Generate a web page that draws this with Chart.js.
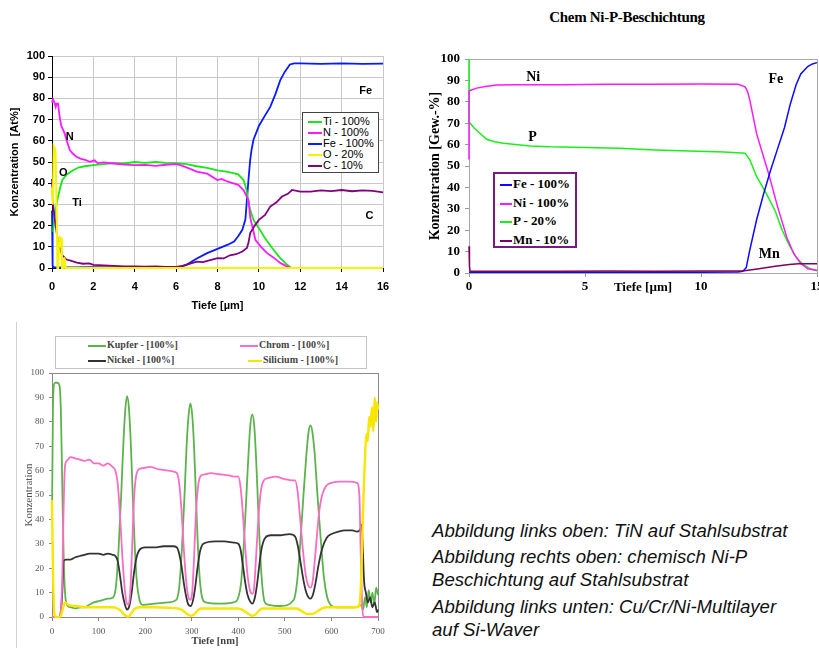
<!DOCTYPE html>
<html>
<head>
<meta charset="utf-8">
<script src="https://cdn.jsdelivr.net/npm/chart.js@4.4.1/dist/chart.umd.min.js"></script>
<style>
  html, body { margin: 0; padding: 0; background: #fff; }
  body { width: 819px; height: 648px; overflow: hidden; position: relative; }
  canvas { position: absolute; }
  .box { position: absolute; background: #fff; }
  .row { position: absolute; white-space: nowrap; }
  .swatch { display: inline-block; vertical-align: middle; }
  #title2 { position: absolute; left: 527px; width: 200px; top: 9px; text-align: center;
            font: bold 15px "Liberation Serif", serif; letter-spacing: -0.3px; }
  #notes { position: absolute; left: 432px; top: 0; font: italic 18.6px "Liberation Sans", Arial, sans-serif;
           line-height: 23px; color: #111; }
  #notes p { position: absolute; margin: 0; white-space: nowrap; }
</style>
</head>
<body>
<canvas id="tin" width="400" height="280" style="left:0;top:40px"></canvas>
<div id="legTin" class="box" style="left:302px;top:112px;width:75px;height:59px;border:1px solid #444"></div>

<div id="title2">Chem Ni-P-Beschichtung</div>
<canvas id="nip" width="430" height="310" style="left:415px;top:0"></canvas>
<div id="legNip" class="box" style="left:493px;top:172px;width:80px;height:72px;border:2px solid #7a1a7a"></div>

<div style="position:absolute;left:16px;top:322px;width:1px;height:326px;background:#d0d0d0"></div>
<div id="legCu" class="box" style="left:55px;top:336px;width:310px;height:31px;border:1px solid #c4c4c4"></div>
<canvas id="cu" width="400" height="286" style="left:0;top:362px"></canvas>

<div id="notes">
  <p style="top:519px">Abbildung links oben: TiN auf Stahlsubstrat</p>
  <p style="top:545px">Abbildung rechts oben: chemisch Ni-P<br>Beschichtung auf Stahlsubstrat</p>
  <p style="top:595px">Abbildung links unten: Cu/Cr/Ni-Multilayer<br>auf Si-Waver</p>
</div>

<script>
// ---------- TiN auf Stahlsubstrat (oben links), Tiefe in µm ----------
const tinNames = ['Ti - 100%', 'N - 100%', 'Fe - 100%', 'O - 20%', 'C - 10%'];
const tiX = [0.05, 0.1, 0.2, 0.3, 0.4, 0.5, 0.7, 1.0, 1.3, 1.6, 2.0, 2.5, 3.0, 3.5, 4.0, 4.5, 5.0, 5.5, 6.0, 6.5, 7.0, 7.5, 8.0, 8.5, 9.0, 9.26, 9.4, 9.5, 9.58, 9.75, 10.0, 10.3, 10.64, 11.0, 11.28, 11.5, 11.6, 16];
const tiY = [17, 22, 29, 34, 38, 41.5, 44, 46, 47.5, 48, 48.5, 49, 49.5, 49.3, 50, 49.6, 50, 49.6, 49.5, 49, 48, 47.2, 46, 45.3, 44.2, 41.5, 37, 31, 27.4, 22.5, 18.8, 14, 9.4, 5, 2.3, 0.5, 0, 0];
const nX = [0, 0.05, 0.12, 0.18, 0.22, 0.29, 0.37, 0.45, 0.61, 0.75, 0.86, 1.0, 1.18, 1.4, 1.6, 1.83, 2.06, 2.2, 2.5, 3.0, 3.5, 4.0, 4.5, 5.0, 5.5, 6.0, 6.2, 6.5, 7.0, 7.5, 8.0, 8.2, 8.5, 9.0, 9.26, 9.5, 9.58, 9.83, 10.1, 10.4, 10.7, 11.05, 11.3, 11.44, 11.55, 16];
const nY = [78, 79.5, 78, 76, 77.5, 77.6, 71.3, 67, 63.5, 59, 55.6, 54, 52.5, 51.5, 51, 50.1, 50.8, 49.5, 49.8, 49.3, 48.8, 48.5, 48.6, 48.2, 48.7, 49, 48.5, 47.5, 45.5, 44.5, 41.5, 42, 40.7, 39.2, 36.8, 32, 24, 13.3, 10, 7, 5, 2.3, 1, 0.5, 0, 0];
const feX = [0, 0.03, 0.1, 1, 2, 3, 4, 5, 6, 6.2, 6.5, 7.0, 7.5, 8.0, 8.5, 8.8, 9.0, 9.2, 9.35, 9.42, 9.5, 9.58, 9.65, 9.74, 10.0, 10.3, 10.55, 10.8, 11.03, 11.25, 11.5, 11.7, 12, 13, 14, 15, 16];
const feY = [27, 1, 0.3, 0.3, 0.4, 0.3, 0.3, 0.3, 0.3, 0.5, 1.5, 4.5, 7, 9, 11, 12.5, 15, 18, 23, 32, 42, 51, 56, 60.5, 67, 72, 76, 82, 88.5, 92.5, 96, 96.5, 96.5, 96.3, 96.5, 96.3, 96.4];
const oX = [0, 0.04, 0.08, 0.12, 0.17, 0.22, 0.26, 0.3, 0.35, 0.38, 0.44, 0.48, 0.55, 0.6, 0.65, 16];
const oY = [38, 30, 57.5, 57, 55, 30, 0, 0, 14, 14.5, 14, 0, 0, 5, 0, 0];
const cX = [0, 0.05, 0.15, 0.25, 0.35, 0.5, 0.7, 0.9, 1.2, 1.5, 1.8, 2.0, 2.5, 3.0, 3.5, 4.0, 4.5, 5.0, 5.5, 6.0, 6.3, 6.6, 7.0, 7.3, 7.6, 8.0, 8.3, 8.6, 8.9, 9.2, 9.42, 9.5, 9.58, 9.8, 10.0, 10.3, 10.55, 10.85, 11.12, 11.4, 11.6, 12.0, 12.5, 13.0, 13.5, 14.0, 14.5, 15.0, 15.5, 16.0];
const cY = [42, 30, 22, 15, 10, 6, 4, 3.5, 2.5, 2, 2.2, 1.5, 1.2, 1, 0.8, 0.8, 0.6, 0.7, 0.5, 0.5, 1, 1.8, 3, 2.8, 3.6, 4.7, 4.5, 6, 6.5, 7.8, 9.4, 12, 16.5, 20, 22.7, 25, 29, 31, 33.7, 35, 36.8, 36, 36, 36.6, 36.3, 36.8, 36.2, 36.6, 36.4, 35.7];

// ---------- Chem Ni-P-Beschichtung (oben rechts), Tiefe in µm ----------
const nipNames = ['Fe - 100%', 'Ni - 100%', 'P - 20%', 'Mn - 10%'];
const npFeX = [0, 2, 4, 6, 8, 10, 11.6, 11.8, 11.95, 12.1, 12.4, 12.7, 13.0, 13.3, 13.6, 13.85, 14.1, 14.3, 14.6, 14.8, 15];
const npFeY = [0.3, 0.3, 0.3, 0.3, 0.3, 0.3, 0.5, 0.8, 2.5, 10.6, 25, 37, 48, 58, 68, 79, 88, 93, 96.5, 97.7, 98.3];
const niX = [0, 0, 0.05, 0.33, 0.7, 1.2, 2, 4, 6, 8, 10, 11.6, 11.9, 12.0, 12.1, 12.25, 12.4, 12.65, 12.9, 13.3, 13.7, 14.0, 14.3, 14.6, 15];
const niY = [53, 85, 85.3, 86.4, 87.2, 87.8, 88, 88, 88.2, 88.2, 88.3, 88.2, 87, 85, 81, 73, 65, 56, 47, 31, 16.6, 9, 4.5, 2, 1.3];
const pX = [0, 0, 0.05, 0.2, 0.47, 0.76, 1.1, 1.48, 2.0, 2.63, 3.5, 5, 6.5, 8, 9.5, 11, 11.9, 12.1, 12.4, 12.8, 13.2, 13.5, 13.8, 14.1, 14.4, 14.7, 15];
const pY = [100, 70.3, 70, 68, 65.3, 62.5, 61.3, 60.6, 60, 59.4, 59, 58.7, 58.3, 57.5, 57, 56.5, 56, 53, 45, 37.4, 29, 20, 13, 7.4, 4, 2, 1];
const mnX = [0, 0.02, 0.05, 2, 4, 6, 8, 10, 11.8, 12.5, 13.2, 13.8, 14.2, 15];
const mnY = [12.5, 3, 0.8, 0.8, 0.8, 0.9, 0.8, 0.9, 0.9, 2, 3.2, 4, 4.3, 4.3];

// ---------- Cu/Cr/Ni-Multilayer auf Si (unten links), Tiefe in nm ----------
const cuNames = ['Kupfer - [100%]', 'Chrom - [100%]', 'Nickel - [100%]', 'Silicium - [100%]'];
const kupferX = [0, 2, 4, 7, 12, 16, 19, 22, 25, 28, 32, 40, 50, 60, 70, 80, 90, 100, 110, 120, 131, 137, 143, 149, 153, 157, 161, 165, 169, 173, 177, 182, 188, 195, 220, 250, 267, 273, 279, 285, 289, 293, 297, 301, 305, 309, 313, 318, 324, 330, 360, 390, 400, 406, 412, 418, 422, 426, 430, 434, 438, 442, 446, 451, 457, 465, 490, 519, 526, 533, 540, 546, 551, 555, 559, 564, 570, 577, 584, 591, 598, 610, 630, 650, 660, 664, 668, 672, 676, 680, 684, 688, 692, 696, 700];
const kupferY = [40, 85, 95, 96, 96, 95, 85, 55, 25, 10, 5, 4, 3.5, 4, 4, 5, 6, 6.5, 7, 7.5, 8, 12, 28, 52, 70, 84, 90.5, 86, 72, 52, 32, 15, 7, 5, 5.5, 6, 7, 12, 28, 52, 70, 82, 87.5, 83, 70, 50, 30, 14, 7, 6, 5.5, 6, 8, 14, 30, 52, 67, 79, 83, 79, 66, 48, 30, 14, 6, 5, 4.5, 7, 14, 30, 50, 66, 76, 78.5, 76, 67, 50, 32, 16, 8, 5, 4, 4, 4, 4.5, 5, 3, 8, 4, 11, 6, 10, 5, 12, 9];
const chromX = [0, 15, 19, 22, 25, 28, 32, 40, 50, 60, 70, 80, 90, 100, 110, 120, 130, 136, 141, 146, 151, 156, 160, 164, 168, 172, 176, 180, 186, 195, 210, 230, 250, 262, 268, 273, 278, 283, 288, 293, 297, 301, 305, 309, 314, 320, 330, 340, 360, 380, 395, 400, 405, 410, 415, 420, 425, 430, 434, 438, 443, 448, 455, 465, 480, 500, 516, 522, 527, 533, 539, 545, 550, 555, 560, 566, 573, 580, 590, 600, 620, 640, 655, 660, 663, 666, 669, 700];
const chromY = [0, 0, 3, 15, 45, 62, 64, 65.5, 65, 64.5, 64, 64.5, 63, 63, 62, 63, 61.5, 60, 55, 42, 25, 12, 6, 5, 10, 28, 48, 57, 60.5, 61, 61.5, 60.5, 60, 59.5, 59, 55, 44, 28, 15, 8, 7, 10, 24, 42, 54, 58, 58.5, 59, 58.5, 58, 57.5, 57.5, 53, 42, 28, 17, 11, 9.5, 12, 24, 40, 51, 56, 57, 57.5, 56.5, 56, 56, 52, 40, 27, 17, 13, 12, 15, 27, 42, 50, 54, 55, 55.5, 55.5, 55, 50, 25, 5, 0, 0];
const nickelX = [0, 15, 19, 22, 25, 30, 40, 50, 60, 70, 80, 90, 100, 110, 120, 130, 136, 141, 146, 151, 156, 161, 166, 171, 176, 181, 188, 200, 220, 240, 260, 268, 273, 278, 283, 288, 293, 298, 303, 308, 313, 318, 325, 350, 370, 390, 400, 405, 410, 415, 420, 425, 430, 435, 440, 445, 450, 458, 470, 490, 510, 522, 528, 534, 540, 546, 551, 555, 560, 566, 572, 580, 590, 600, 615, 630, 645, 655, 662, 665, 667, 670, 674, 678, 683, 688, 693, 698, 700];
const nickelY = [0, 0, 2, 10, 23, 23.5, 23.5, 24.5, 25, 25.5, 26, 26, 26, 25.5, 26, 25.5, 25, 23, 17, 10, 5.5, 3, 4.5, 10, 18, 24, 27.5, 28.5, 28.5, 29, 29, 28.5, 26, 21, 14, 8.5, 5, 4.5, 7, 13, 21, 27, 30, 31, 31, 30.5, 30, 27.5, 21, 14, 9, 6.5, 5.5, 7.5, 13, 21, 28, 32.5, 33.5, 33.5, 34, 33, 29, 22, 15, 10, 8, 7.5, 9, 14, 21, 28, 32.5, 34, 35, 35.5, 35.5, 35, 36, 38, 30, 15, 10, 6, 8, 4, 6, 2, 3];
const siliciumX = [0, 2, 4, 6, 10, 16, 20, 24, 28, 35, 50, 80, 110, 130, 140, 148, 155, 160, 165, 170, 176, 182, 190, 220, 250, 270, 278, 285, 292, 298, 305, 312, 320, 340, 380, 400, 408, 416, 424, 430, 437, 444, 452, 480, 510, 525, 533, 541, 549, 556, 563, 571, 580, 590, 600, 630, 655, 660, 663, 666, 669, 672, 675, 678, 681, 684, 687, 690, 693, 696, 698, 700];
const siliciumY = [48, 20, 5, 0.5, 0, 0, 1, 4, 6, 5, 4.5, 4, 4, 4, 3.5, 2.5, 1, 0.3, 0.2, 1.5, 3, 3.8, 4, 4, 3.8, 3.5, 3, 2, 1, 0.5, 1, 2.5, 3.5, 3.5, 3.5, 3.5, 3, 2, 1, 0.5, 1, 2.5, 3.5, 3.5, 3.5, 3.5, 2.8, 1.8, 1.2, 1.2, 1.5, 2.5, 3.5, 4, 4, 4, 4, 5, 12, 30, 50, 65, 75, 72, 82, 78, 86, 76, 90, 80, 88, 85];

// ---------- helpers ----------
const pts = (xs, ys) => xs.map((x, i) => ({ x, y: ys[i] }));

const line = (label, xs, ys, color, width, order) => ({
    label, data: pts(xs, ys), borderColor: color, backgroundColor: color,
    borderWidth: width, pointRadius: 0, showLine: true, order, clip: 3, tension: 0
});

// grauer Rahmen um die Plotfläche
const frame = {
    id: 'frame',
    beforeDatasetsDraw(chart, args, opts) {
        if (!opts.color) return;
        const { ctx, chartArea: a } = chart;
        ctx.save();
        ctx.strokeStyle = opts.color;
        ctx.lineWidth = 1;
        ctx.strokeRect(Math.round(a.left) + 0.5, Math.round(a.top) + 0.5, Math.round(a.width), Math.round(a.height));
        ctx.restore();
    }
};

// Elementbeschriftungen im Diagramm (Datenkoordinaten)
const tags = {
    id: 'tags',
    afterDatasetsDraw(chart, args, opts) {
        if (!opts.items) return;
        const { ctx, scales: { x, y } } = chart;
        ctx.save();
        ctx.font = opts.font;
        ctx.fillStyle = opts.color || '#000';
        ctx.textAlign = 'center';
        ctx.textBaseline = 'middle';
        opts.items.forEach(t => ctx.fillText(t.text, x.getPixelForValue(t.x), y.getPixelForValue(t.y)));
        ctx.restore();
    }
};

const base = {
    responsive: false,
    animation: false,
    events: [],
    plugins: { legend: { display: false }, tooltip: { enabled: false } }
};

function legendRows(el, names, colors, opt) {
    el.innerHTML = names.map((n, i) =>
        `<div class="row" style="left:${opt.left[i]}px;top:${opt.top[i]}px;font:${opt.font};line-height:${opt.lh}px;color:${opt.color}">` +
        `<span class="swatch" style="width:${opt.sw[i]}px;height:${opt.th}px;background:${colors[i]};margin-right:${opt.gap}px"></span>${n}</div>`
    ).join('');
}

// ---------- Chart 1: TiN ----------
const tinColors = ['#19e619', '#ff19ff', '#0a1aff', '#f5f500', '#800080'];
const arial = 'Liberation Sans, Arial, sans-serif';
new Chart(document.getElementById('tin'), {
    type: 'scatter',
    data: {
        datasets: [
            line(tinNames[0], tiX, tiY, tinColors[0], 1.8, 3),
            line(tinNames[1], nX, nY, tinColors[1], 1.8, 2),
            line(tinNames[2], feX, feY, tinColors[2], 1.8, 4),
            line(tinNames[3], oX, oY, tinColors[3], 2, 0),
            line(tinNames[4], cX, cY, tinColors[4], 1.8, 1)
        ]
    },
    options: {
        ...base,
        layout: { padding: { left: 0, right: 17, top: 16, bottom: 7 } },
        plugins: {
            ...base.plugins,
            tags: {
                font: 'bold 11px Liberation Sans, Arial, sans-serif',
                items: [
                    { x: 15.16, y: 83.4, text: 'Fe' }, { x: 0.86, y: 61.9, text: 'N' },
                    { x: 0.54, y: 45, text: 'O' }, { x: 1.21, y: 30.6, text: 'Ti' },
                    { x: 15.35, y: 24.6, text: 'C' }
                ]
            }
        },
        scales: {
            x: {
                type: 'linear', min: 0, max: 16,
                afterFit: s => { s.height = 45; },
                ticks: { stepSize: 2, color: '#000', padding: 8, maxRotation: 0, font: { family: arial, size: 11, weight: 'bold' } },
                grid: { color: '#c8c8c8', tickColor: '#000', tickLength: 4 },
                border: { color: '#000' },
                title: { display: true, text: 'Tiefe [µm]', color: '#000', padding: 0, font: { family: arial, size: 11, weight: 'bold' } }
            },
            y: {
                min: 0, max: 100,
                afterFit: s => { s.width = 52; },
                ticks: { stepSize: 10, color: '#000', padding: 3, font: { family: arial, size: 11, weight: 'bold' } },
                grid: { color: '#c8c8c8', tickColor: '#000', tickLength: 4 },
                border: { color: '#000' },
                title: { display: true, text: 'Konzentration  [At%]', color: '#000', padding: { top: 8, bottom: 0 }, font: { family: arial, size: 11, weight: 'bold' } }
            }
        }
    },
    plugins: [tags]
});
legendRows(document.getElementById('legTin'), tinNames, tinColors, {
    left: [5, 5, 5, 5, 5], top: [3, 14, 25, 36, 47], font: '11px Liberation Sans, Arial, sans-serif',
    lh: 11, color: '#000', sw: [14, 14, 14, 14, 14], th: 2, gap: 1
});

// ---------- Chart 2: Ni-P ----------
const nipColors = ['#0a0aff', '#ff19ff', '#19f019', '#800060'];
const serif = 'Liberation Serif, Times New Roman, serif';
new Chart(document.getElementById('nip'), {
    type: 'scatter',
    data: {
        datasets: [
            line(nipNames[0], npFeX, npFeY, nipColors[0], 1.5, 1),
            line(nipNames[1], niX, niY, nipColors[1], 1.5, 2),
            line(nipNames[2], pX, pY, nipColors[2], 1.5, 3),
            line(nipNames[3], mnX, mnY, nipColors[3], 1.5, 0)
        ]
    },
    options: {
        ...base,
        layout: { padding: { left: 0, right: 28, top: 59, bottom: 15 } },
        plugins: {
            ...base.plugins,
            frame: { color: '#a8a8a8' },
            tags: {
                font: 'bold 14px Liberation Serif, Times New Roman, serif',
                items: [
                    { x: 2.77, y: 91.6, text: 'Ni' }, { x: 2.74, y: 63.3, text: 'P' },
                    { x: 13.23, y: 90.3, text: 'Fe' }, { x: 12.94, y: 8.8, text: 'Mn' }
                ]
            }
        },
        scales: {
            x: {
                type: 'linear', min: 0, max: 15,
                afterFit: s => { s.height = 22; },
                ticks: { stepSize: 5, color: '#000', padding: 2, maxRotation: 0, font: { family: serif, size: 13, weight: 'bold' } },
                grid: { drawOnChartArea: false, tickColor: '#999', tickLength: 4 },
                border: { color: '#888' },
                title: { display: true, text: 'Tiefe [µm]', color: '#000', padding: 0, font: { family: serif, size: 13, weight: 'bold' } }
            },
            y: {
                min: 0, max: 100,
                afterFit: s => { s.width = 54; },
                ticks: { stepSize: 10, color: '#000', padding: 5, font: { family: serif, size: 13, weight: 'bold' } },
                grid: { drawOnChartArea: false, tickColor: '#999', tickLength: 4 },
                border: { color: '#888' },
                title: { display: true, text: 'Konzentration [Gew.-%]', color: '#000', padding: { top: 12, bottom: 0 }, font: { family: serif, size: 14, weight: 'bold' } }
            }
        }
    },
    plugins: [frame, tags]
});
legendRows(document.getElementById('legNip'), nipNames, nipColors, {
    left: [5, 5, 5, 5], top: [1, 19.5, 38, 56.5], font: 'bold 13px Liberation Serif, Times New Roman, serif',
    lh: 17, color: '#000', sw: [12, 12, 12, 12], th: 2, gap: 1
});

// ---------- Chart 3: Cu/Cr/Ni ----------
const cuColors = ['#5cb34c', '#fb6cc4', '#333333', '#f7e600'];
new Chart(document.getElementById('cu'), {
    type: 'scatter',
    data: {
        datasets: [
            line(cuNames[0], kupferX, kupferY, cuColors[0], 1.8, 3),
            line(cuNames[1], chromX, chromY, cuColors[1], 1.8, 1),
            line(cuNames[2], nickelX, nickelY, cuColors[2], 1.8, 2),
            line(cuNames[3], siliciumX, siliciumY, cuColors[3], 2.4, 0)
        ]
    },
    options: {
        ...base,
        layout: { padding: { left: 0, right: 22, top: 11, bottom: 0 } },
        elements: { line: { cubicInterpolationMode: 'monotone' } },
        plugins: { ...base.plugins, frame: { color: '#8a8a8a' } },
        scales: {
            x: {
                type: 'linear', min: 0, max: 700,
                afterFit: s => { s.height = 31; },
                ticks: { stepSize: 100, color: '#555', padding: 5, maxRotation: 0, font: { family: serif, size: 9 } },
                grid: { drawOnChartArea: false, tickColor: '#888', tickLength: 4 },
                border: { color: '#777' },
                title: { display: true, text: 'Tiefe [nm]', color: '#444', padding: 0, font: { family: serif, size: 10.5, weight: 'bold' } }
            },
            y: {
                min: 0, max: 100,
                afterFit: s => { s.width = 52; },
                ticks: { stepSize: 10, color: '#555', padding: 5, font: { family: serif, size: 9 } },
                grid: { drawOnChartArea: false, tickColor: '#888', tickLength: 3 },
                border: { color: '#777' },
                title: { display: true, text: 'Konzentration', color: '#555', padding: { top: 23, bottom: 0 }, font: { family: serif, size: 11 } }
            }
        }
    },
    plugins: [frame]
});
legendRows(document.getElementById('legCu'), cuNames, cuColors, {
    left: [32, 184, 32, 192], top: [1, 1, 16, 16], font: 'bold 10px Liberation Serif, Times New Roman, serif',
    lh: 14, color: '#444', sw: [18, 18, 18, 14], th: 2, gap: 1
});
</script>
</body>
</html>
